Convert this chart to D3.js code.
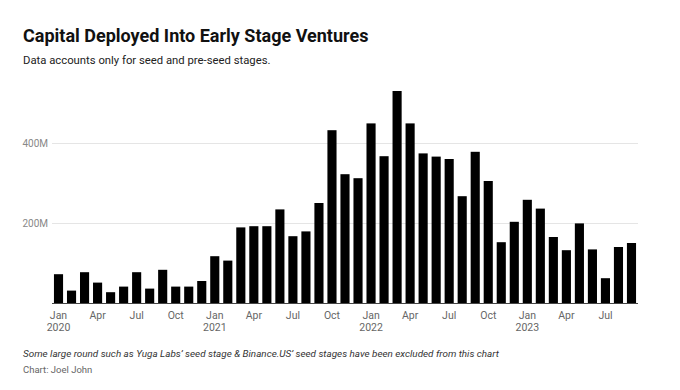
<!DOCTYPE html>
<html>
<head>
<meta charset="utf-8">
<script src="https://cdn.jsdelivr.net/npm/d3@7"></script>
<style>
  html, body { margin: 0; padding: 0; background: #fff; }
  svg { display: block; font-family: Roboto, "Noto Sans", sans-serif; }
</style>
</head>
<body>
<svg id="chart" width="680" height="390"></svg>
<script>
const months = [
  "Jan 2020","Feb 2020","Mar 2020","Apr 2020","May 2020","Jun 2020","Jul 2020","Aug 2020","Sep 2020","Oct 2020","Nov 2020","Dec 2020",
  "Jan 2021","Feb 2021","Mar 2021","Apr 2021","May 2021","Jun 2021","Jul 2021","Aug 2021","Sep 2021","Oct 2021","Nov 2021","Dec 2021",
  "Jan 2022","Feb 2022","Mar 2022","Apr 2022","May 2022","Jun 2022","Jul 2022","Aug 2022","Sep 2022","Oct 2022","Nov 2022","Dec 2022",
  "Jan 2023","Feb 2023","Mar 2023","Apr 2023","May 2023","Jun 2023","Jul 2023","Aug 2023","Sep 2023"
];
// Capital deployed, millions USD
const capital = [
  72, 31, 77, 51, 27, 41, 77, 36, 83, 41, 41, 55,
  117, 106, 189, 192, 192, 234, 167, 179, 250, 432, 322, 312,
  449, 367, 530, 449, 374, 366, 360, 267, 378, 305, 152, 203,
  258, 236, 165, 132, 199, 134, 62, 140, 150
];
const yTicks = [200, 400];
const xTickMonths = ["Jan", "Apr", "Jul", "Oct"];

const title = "Capital Deployed Into Early Stage Ventures";
const subtitle = "Data accounts only for seed and pre-seed stages.";
const note = "Some large round such as Yuga Labs’ seed stage & Binance.US’ seed stages have been excluded from this chart";
const credit = "Chart: Joel John";

const svg = d3.select("#chart");
const mLeft = 52, mRight = 638, mTop = 83, mBottom = 303;

const x = d3.scaleBand().domain(months).range([mLeft, mRight]).paddingInner(0.3).paddingOuter(0.15);
const y = d3.scaleLinear().domain([0, 550]).range([mBottom, mTop]);

// Title block
svg.append("text").attr("x", 23).attr("y", 41.5)
  .attr("font-size", 18).attr("font-weight", 700).attr("fill", "#111").text(title);
svg.append("text").attr("x", 23).attr("y", 64)
  .attr("font-size", 11.3).attr("fill", "#222").text(subtitle);

// Gridlines
svg.append("g").selectAll("line").data(yTicks).join("line")
  .attr("x1", mLeft).attr("x2", mRight)
  .attr("y1", d => Math.round(y(d)) + 0.5).attr("y2", d => Math.round(y(d)) + 0.5)
  .attr("stroke", "#e5e5e5").attr("stroke-width", 1);

// Y labels
const yAxis = d3.axisLeft(y).tickValues(yTicks).tickSize(0).tickPadding(4).tickFormat(d => d + "M");
const gy = svg.append("g").attr("transform", `translate(${mLeft},0)`).call(yAxis);
gy.select(".domain").remove();
gy.selectAll("text").attr("font-size", 10).attr("fill", "#888").attr("font-family", "Roboto, sans-serif");

// Bars
svg.append("g").selectAll("rect").data(capital).join("rect")
  .attr("x", (d, i) => x(months[i]))
  .attr("width", x.bandwidth())
  .attr("y", d => y(d))
  .attr("height", d => y(0) - y(d))
  .attr("fill", "#000");

// Baseline
svg.append("line").attr("x1", mLeft).attr("x2", mRight)
  .attr("y1", mBottom + 0.5).attr("y2", mBottom + 0.5)
  .attr("stroke", "#444").attr("stroke-width", 1);

// X axis
const tickVals = months.filter(m => xTickMonths.includes(m.split(" ")[0]));
const xAxis = d3.axisBottom(x).tickValues(tickVals).tickSize(0).tickPadding(0).tickFormat(() => "");
const gx = svg.append("g").attr("transform", `translate(0,${mBottom})`).call(xAxis);
gx.select(".domain").remove();
gx.selectAll(".tick text").each(function(d) {
  const t = d3.select(this);
  const [m, yr] = d.split(" ");
  t.attr("font-size", 10.5).attr("fill", "#666").attr("font-family", "Roboto, sans-serif").attr("y", 0).attr("dy", null);
  t.append("tspan").attr("x", 0).attr("y", 15.5).text(m);
  if (m === "Jan") t.append("tspan").attr("x", 0).attr("y", 27.5).text(yr);
});

// Footer
svg.append("text").attr("x", 23).attr("y", 357)
  .attr("font-size", 9.9).attr("font-style", "italic").attr("fill", "#333").text(note);
svg.append("text").attr("x", 23).attr("y", 373)
  .attr("font-size", 9.5).attr("fill", "#666").text(credit);
</script>
</body>
</html>
